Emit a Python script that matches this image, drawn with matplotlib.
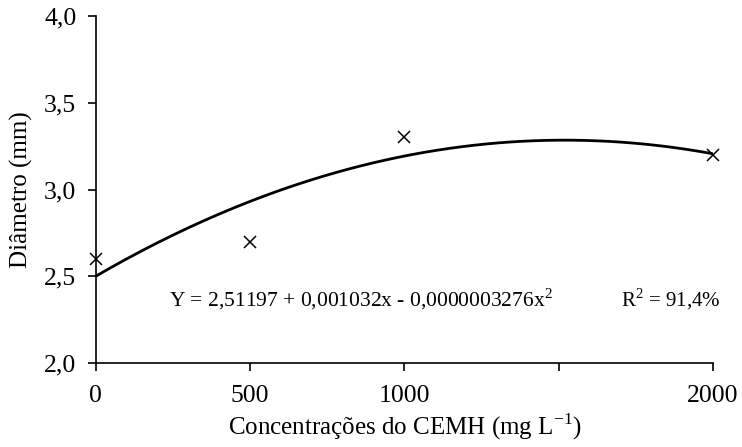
import numpy as np
import matplotlib
matplotlib.use('Agg')
import matplotlib.pyplot as plt
from matplotlib.ticker import FuncFormatter

# observed means
conc = [0, 500, 1000, 2000]
diam = [2.6, 2.7, 3.3, 3.2]

# trendline coefficients (as drawn)
b0, b1, b2 = 2.50, 0.001033, -0.000000340

xticks = [0, 500, 1000, 1500, 2000]
xticklabels = ['0', '500', '1000', '', '2000']
yticks = [2.0, 2.5, 3.0, 3.5, 4.0]

plt.rcParams['font.family'] = 'Liberation Serif'
plt.rcParams['mathtext.fontset'] = 'custom'
plt.rcParams['mathtext.rm'] = 'Liberation Serif'

fig = plt.figure(figsize=(7.42, 4.47), dpi=100)
ax = fig.add_axes([0.129, 0.188, 0.832, 0.776])

xs = np.linspace(0, 2000, 200)
ax.plot(xs, b0 + b1 * xs + b2 * xs ** 2, color='black', lw=2)
ax.plot(conc, diam, 'x', color='black', markersize=8, mew=1.1, clip_on=False)

ax.set_xlim(0, 2000)
ax.set_ylim(2.0, 4.0)
ax.set_xticks(xticks)
ax.set_xticklabels(xticklabels)
ax.set_yticks(yticks)
ax.yaxis.set_major_formatter(FuncFormatter(lambda v, p: f'{v:.1f}'.replace('.', ',')))
ax.tick_params(direction='out', length=6, width=1.2, labelsize=18.5)
ax.tick_params(axis='y', pad=8)
ax.tick_params(axis='x', pad=10)
for s in ['top', 'right']:
    ax.spines[s].set_visible(False)
for s in ['left', 'bottom']:
    ax.spines[s].set_linewidth(1.2)

ax.set_xlabel('Concentrações do CEMH (mg L$^{\\mathregular{-1}}$)', fontsize=18, labelpad=3)
ax.set_ylabel('Diâmetro (mm)', fontsize=18, labelpad=8)

ax.text(237, 2.37, 'Y = 2,51197 + 0,001032x - 0,0000003276x$^{\\mathregular{2}}$',
        fontsize=15.5, va='center')
ax.text(1702, 2.37, 'R$^{\\mathregular{2}}$ = 91,4%', fontsize=15, va='center')

plt.savefig('out.png', dpi=100)
